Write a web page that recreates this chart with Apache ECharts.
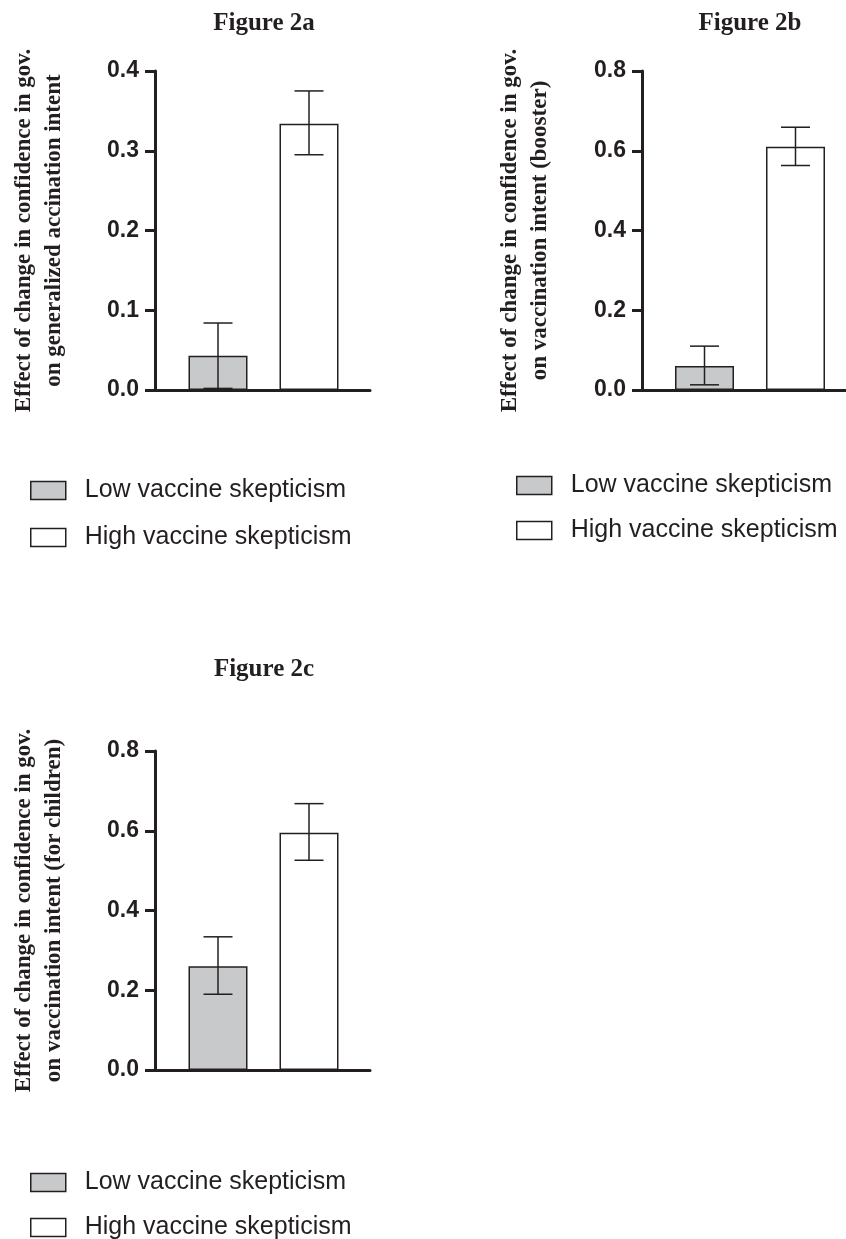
<!DOCTYPE html>
<html>
<head>
<meta charset="utf-8">
<script src="https://cdn.jsdelivr.net/npm/echarts@6/dist/echarts.min.js"></script>
<style>
  html, body { margin: 0; padding: 0; background: #fff; }
  #main { width: 846px; height: 1239px; }
</style>
</head>
<body>
<div id="main"></div>
<script>
// data
var groups = ['Low vaccine skepticism', 'High vaccine skepticism'];
var panelTitles = ['Figure 2a', 'Figure 2b', 'Figure 2c'];
var yNames = [
    'Effect of change in confidence in gov.\non generalized accination intent',
    'Effect of change in confidence in gov.\non vaccination intent (booster)',
    'Effect of change in confidence in gov.\non vaccination intent (for children)'
];
var lowMean = [0.043, 0.060, 0.260];
var highMean = [0.334, 0.610, 0.595];
var lowErr = [[0.002, 0.084], [0.013, 0.110], [0.190, 0.334]];
var highErr = [[0.295, 0.375], [0.563, 0.659], [0.526, 0.668]];
var yMax = [0.4, 0.8, 0.8];
var yStep = [0.1, 0.2, 0.2];

// layout of each panel (pixels)
var panels = [
    { axisLeft: 155, axisWidth: 215, top: 71, height: 319, barLeft: 172.5, titleX: 259, titleY: 6, nameGap: 86, legendLeft: 30, legendTop: 478, legendGap: 22 },
    { axisLeft: 642, axisWidth: 215, top: 71, height: 319, barLeft: 659, titleX: 745, titleY: 6, nameGap: 87, legendLeft: 516, legendTop: 473, legendGap: 20 },
    { axisLeft: 155, axisWidth: 215, top: 751, height: 319, barLeft: 172.5, titleX: 259, titleY: 652, nameGap: 86, legendLeft: 30, legendTop: 1170, legendGap: 20 }
];

var ink = '#231f20';
var lowFill = '#c8c9cb';
var serif = '"Liberation Serif", "Times New Roman", serif';
var sans = '"Liberation Sans", Arial, sans-serif';

function renderErr(params, api) {
    var x = api.value(0);
    var lo = api.coord([x, api.value(1)]);
    var hi = api.coord([x, api.value(2)]);
    var w = 14.5;
    var st = { stroke: ink, lineWidth: 1.5 };
    return {
        type: 'group',
        children: [
            { type: 'line', shape: { x1: lo[0], y1: lo[1], x2: hi[0], y2: hi[1] }, style: st },
            { type: 'line', shape: { x1: lo[0] - w, y1: lo[1], x2: lo[0] + w, y2: lo[1] }, style: st },
            { type: 'line', shape: { x1: hi[0] - w, y1: hi[1], x2: hi[0] + w, y2: hi[1] }, style: st }
        ]
    };
}

var grid = [], xAxis = [], yAxis = [], series = [], title = [], legend = [];

panels.forEach(function (p, i) {
    // frame grid: visible axes
    grid.push({ left: p.axisLeft, top: p.top, width: p.axisWidth, height: p.height });
    // inner grid: where the bars sit
    grid.push({ left: p.barLeft, top: p.top, width: 182, height: p.height });
    var g0 = i * 2, g1 = i * 2 + 1;

    xAxis.push({
        gridIndex: g0, type: 'value', min: 0, max: 1,
        axisLine: { show: true, lineStyle: { color: ink, width: 3 } },
        axisTick: { show: false }, axisLabel: { show: false }, splitLine: { show: false }
    });
    xAxis.push({
        gridIndex: g1, type: 'category', data: groups, show: false
    });
    yAxis.push({
        gridIndex: g0, type: 'value', min: 0, max: yMax[i], interval: yStep[i],
        name: yNames[i], nameLocation: 'middle', nameRotate: 90, nameGap: p.nameGap,
        nameTextStyle: { fontFamily: serif, fontWeight: 'bold', fontSize: 23, lineHeight: 30, color: ink },
        axisLine: { show: true, lineStyle: { color: ink, width: 3 } },
        axisTick: { show: true, length: 10, lineStyle: { color: ink, width: 3 } },
        axisLabel: {
            margin: 16, fontFamily: sans, fontWeight: 'bold', fontSize: 23, color: ink,
            formatter: function (v) { return v.toFixed(1); }
        },
        splitLine: { show: false }
    });
    yAxis.push({
        gridIndex: g1, type: 'value', min: 0, max: yMax[i], show: false
    });

    series.push({
        name: groups[0], type: 'bar', xAxisIndex: g1, yAxisIndex: g1,
        data: [lowMean[i], '-'], barWidth: 59, barGap: '-100%',
        itemStyle: { color: lowFill, borderColor: ink, borderWidth: 1.5 },
        emphasis: { disabled: true }
    });
    series.push({
        name: groups[1], type: 'bar', xAxisIndex: g1, yAxisIndex: g1,
        data: ['-', highMean[i]], barWidth: 59, barGap: '-100%',
        itemStyle: { color: '#ffffff', borderColor: ink, borderWidth: 1.5 },
        emphasis: { disabled: true }
    });
    series.push({
        name: 'error', type: 'custom', xAxisIndex: g1, yAxisIndex: g1, z: 5,
        renderItem: renderErr,
        encode: { x: 0, y: [1, 2] },
        data: [[0, lowErr[i][0], lowErr[i][1]], [1, highErr[i][0], highErr[i][1]]]
    });

    title.push({
        text: panelTitles[i], left: p.titleX, top: p.titleY, textAlign: 'center',
        textStyle: { fontFamily: serif, fontWeight: 'bold', fontSize: 25, color: ink }
    });

    legend.push({
        data: groups, orient: 'vertical', left: p.legendLeft, top: p.legendTop,
        height: 120, padding: 0,
        itemWidth: 35, itemHeight: 18, itemGap: p.legendGap, icon: 'rect',
        selectedMode: false,
        itemStyle: { borderColor: ink, borderWidth: 1.5 },
        textStyle: { fontFamily: sans, fontSize: 25, color: ink, padding: [0, 0, 0, 14] }
    });
});

var chart = echarts.init(document.getElementById('main'), null, { renderer: 'canvas' });
chart.setOption({
    animation: false,
    backgroundColor: '#ffffff',
    title: title,
    legend: legend,
    grid: grid,
    xAxis: xAxis,
    yAxis: yAxis,
    series: series
});
</script>
</body>
</html>
